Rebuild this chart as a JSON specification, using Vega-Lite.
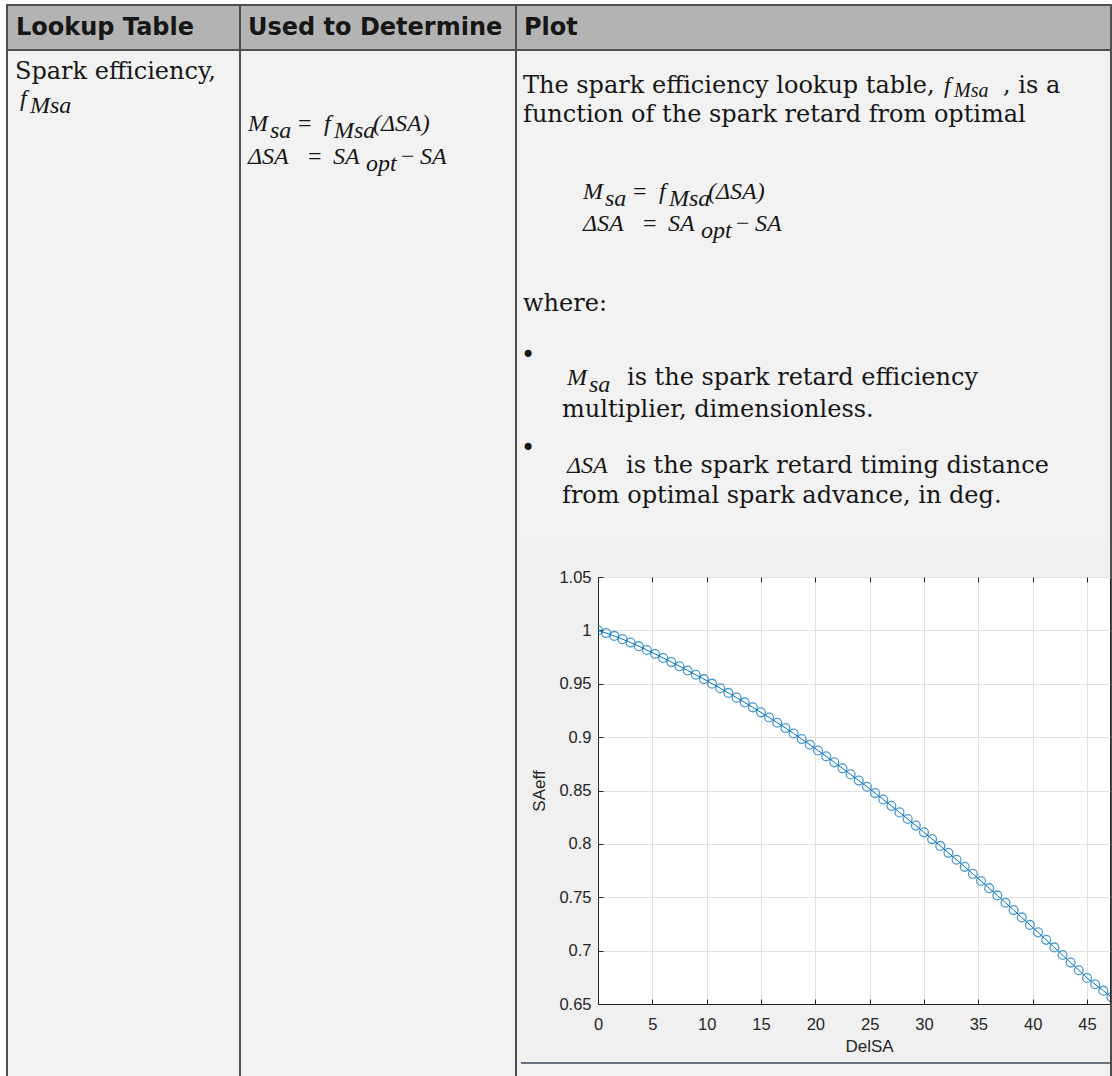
{
  "$schema": "https://vega.github.io/schema/vega-lite/v6.json",
  "padding": 0,
  "background": "white",
  "bounds": "flush",
  "spacing": 0,
  "config": {
    "view": {"stroke": null},
    "text": {"align": "left", "baseline": "alphabetic", "color": "#161616", "font": "DejaVu Serif", "fontSize": 24},
    "style": {
      "hdr": {"font": "DejaVu Sans", "fontWeight": "bold", "fontSize": 22},
      "body": {"font": "DejaVu Serif", "fontSize": 24},
      "mi": {"font": "Liberation Serif", "fontStyle": "italic", "fontSize": 30},
      "sub": {"font": "Liberation Serif", "fontStyle": "italic", "fontSize": 21},
      "op": {"font": "Liberation Serif", "fontSize": 30},
      "dot": {"font": "DejaVu Sans", "fontSize": 18}
    }
  },
  "vconcat": [
    {
      "width": 1112,
      "height": 577,
      "data": {"values": [{}]},
      "layer": [
        {"mark": {"type": "rect", "x": 7, "x2": 1111, "y": 50, "y2": 1076, "color": "#f2f2f2"}},
        {"mark": {"type": "rect", "x": 7, "x2": 1111, "y": 5, "y2": 50, "color": "#b3b3b3"}},
        {"mark": {"type": "rect", "x": 520, "x2": 1110, "y": 542, "y2": 1063, "color": "#f0f0f0"}},
        {"mark": {"type": "rect", "x": 6, "x2": 1112, "y": 4, "y2": 6, "color": "#4f4f4f"}},
        {"mark": {"type": "rect", "x": 6, "x2": 1112, "y": 49, "y2": 51, "color": "#4f4f4f"}},
        {"mark": {"type": "rect", "x": 6, "x2": 8, "y": 4, "y2": 1076, "color": "#4f4f4f"}},
        {"mark": {"type": "rect", "x": 239, "x2": 241, "y": 4, "y2": 1076, "color": "#4f4f4f"}},
        {"mark": {"type": "rect", "x": 515, "x2": 517, "y": 4, "y2": 1076, "color": "#4f4f4f"}},
        {"mark": {"type": "rect", "x": 1110, "x2": 1112, "y": 4, "y2": 1076, "color": "#4f4f4f"}},
        {"mark": {"type": "rect", "x": 521, "x2": 1110, "y": 1062.3, "y2": 1063.7, "color": "#3a4659"}},

        {"mark": {"type": "text", "style": "hdr", "text": "Lookup Table", "x": 16, "y": 35}},
        {"mark": {"type": "text", "style": "hdr", "text": "Used to Determine", "x": 248, "y": 35}},
        {"mark": {"type": "text", "style": "hdr", "text": "Plot", "x": 524, "y": 35}},

        {"mark": {"type": "text", "style": "body", "text": "Spark efficiency,", "x": 15, "y": 79}},
        {"mark": {"type": "text", "style": "mi", "text": "f", "x": 20, "y": 106}},
        {"mark": {"type": "text", "style": "sub", "text": "Msa", "x": 30, "y": 113}},

        {"mark": {"type": "text", "style": "mi", "text": "M", "x": 248, "y": 131}},
        {"mark": {"type": "text", "style": "sub", "text": "sa", "x": 270, "y": 138}},
        {"mark": {"type": "text", "style": "op", "text": "=", "x": 298, "y": 131}},
        {"mark": {"type": "text", "style": "mi", "text": "f", "x": 324, "y": 131}},
        {"mark": {"type": "text", "style": "sub", "text": "Msa", "x": 334, "y": 138}},
        {"mark": {"type": "text", "style": "mi", "text": "(ΔSA)", "x": 373, "y": 131}},
        {"mark": {"type": "text", "style": "mi", "text": "ΔSA", "x": 248, "y": 164}},
        {"mark": {"type": "text", "style": "op", "text": "=", "x": 308, "y": 164}},
        {"mark": {"type": "text", "style": "mi", "text": "SA", "x": 333, "y": 164}},
        {"mark": {"type": "text", "style": "sub", "text": "opt", "x": 366, "y": 171}},
        {"mark": {"type": "text", "style": "op", "text": "−", "x": 401, "y": 164}},
        {"mark": {"type": "text", "style": "mi", "text": "SA", "x": 420, "y": 164}},

        {"mark": {"type": "text", "style": "body", "text": "The spark efficiency lookup table,", "x": 523, "y": 93}},
        {"mark": {"type": "text", "style": "mi", "text": "f", "x": 944, "y": 93}},
        {"mark": {"type": "text", "style": "sub", "text": "Msa", "x": 954, "y": 97, "fontSize": 20}},
        {"mark": {"type": "text", "style": "body", "text": ", is a", "x": 1003, "y": 93}},
        {"mark": {"type": "text", "style": "body", "text": "function of the spark retard from optimal", "x": 523, "y": 122}},

        {"mark": {"type": "text", "style": "mi", "text": "M", "x": 583, "y": 199}},
        {"mark": {"type": "text", "style": "sub", "text": "sa", "x": 605, "y": 206}},
        {"mark": {"type": "text", "style": "op", "text": "=", "x": 633, "y": 199}},
        {"mark": {"type": "text", "style": "mi", "text": "f", "x": 659, "y": 199}},
        {"mark": {"type": "text", "style": "sub", "text": "Msa", "x": 669, "y": 206}},
        {"mark": {"type": "text", "style": "mi", "text": "(ΔSA)", "x": 708, "y": 199}},
        {"mark": {"type": "text", "style": "mi", "text": "ΔSA", "x": 583, "y": 231}},
        {"mark": {"type": "text", "style": "op", "text": "=", "x": 643, "y": 231}},
        {"mark": {"type": "text", "style": "mi", "text": "SA", "x": 668, "y": 231}},
        {"mark": {"type": "text", "style": "sub", "text": "opt", "x": 701, "y": 238}},
        {"mark": {"type": "text", "style": "op", "text": "−", "x": 736, "y": 231}},
        {"mark": {"type": "text", "style": "mi", "text": "SA", "x": 755, "y": 231}},

        {"mark": {"type": "text", "style": "body", "text": "where:", "x": 523, "y": 311}},
        {"mark": {"type": "text", "style": "dot", "text": "•", "x": 521, "y": 363}},
        {"mark": {"type": "text", "style": "mi", "text": "M", "x": 567, "y": 385}},
        {"mark": {"type": "text", "style": "sub", "text": "sa", "x": 589, "y": 392}},
        {"mark": {"type": "text", "style": "body", "text": "is the spark retard efficiency", "x": 627, "y": 385}},
        {"mark": {"type": "text", "style": "body", "text": "multiplier, dimensionless.", "x": 562, "y": 417}},
        {"mark": {"type": "text", "style": "dot", "text": "•", "x": 521, "y": 456}},
        {"mark": {"type": "text", "style": "mi", "text": "ΔSA", "x": 567, "y": 473}},
        {"mark": {"type": "text", "style": "body", "text": "is the spark retard timing distance", "x": 626, "y": 473}},
        {"mark": {"type": "text", "style": "body", "text": "from optimal spark advance, in deg.", "x": 562, "y": 503}}
      ]
    },
    {
      "spacing": 0,
      "bounds": "flush",
      "hconcat": [
        {
          "width": 598,
          "height": 427,
          "data": {"values": [{}]},
          "mark": {"type": "point", "opacity": 0}
        },
        {
          "width": 512,
          "height": 427,
          "view": {"fill": "white", "stroke": "#262626", "strokeWidth": 1},
          "data": {
            "values": [
              {"DelSA": 0, "SAeff": 1.0},
              {"DelSA": 0.75, "SAeff": 0.9975},
              {"DelSA": 1.5, "SAeff": 0.9948},
              {"DelSA": 2.25, "SAeff": 0.9918},
              {"DelSA": 3, "SAeff": 0.9886},
              {"DelSA": 3.75, "SAeff": 0.9852},
              {"DelSA": 4.5, "SAeff": 0.9816},
              {"DelSA": 5.25, "SAeff": 0.9779},
              {"DelSA": 6, "SAeff": 0.9741},
              {"DelSA": 6.75, "SAeff": 0.9703},
              {"DelSA": 7.5, "SAeff": 0.9664},
              {"DelSA": 8.25, "SAeff": 0.9624},
              {"DelSA": 9, "SAeff": 0.9584},
              {"DelSA": 9.75, "SAeff": 0.9543},
              {"DelSA": 10.5, "SAeff": 0.9501},
              {"DelSA": 11.25, "SAeff": 0.9458},
              {"DelSA": 12, "SAeff": 0.9414},
              {"DelSA": 12.75, "SAeff": 0.937},
              {"DelSA": 13.5, "SAeff": 0.9325},
              {"DelSA": 14.25, "SAeff": 0.9279},
              {"DelSA": 15, "SAeff": 0.9232},
              {"DelSA": 15.75, "SAeff": 0.9184},
              {"DelSA": 16.5, "SAeff": 0.9135},
              {"DelSA": 17.25, "SAeff": 0.9085},
              {"DelSA": 18, "SAeff": 0.9034},
              {"DelSA": 18.75, "SAeff": 0.8982},
              {"DelSA": 19.5, "SAeff": 0.8929},
              {"DelSA": 20.25, "SAeff": 0.8875},
              {"DelSA": 21, "SAeff": 0.882},
              {"DelSA": 21.75, "SAeff": 0.8764},
              {"DelSA": 22.5, "SAeff": 0.8708},
              {"DelSA": 23.25, "SAeff": 0.8651},
              {"DelSA": 24, "SAeff": 0.8593},
              {"DelSA": 24.75, "SAeff": 0.8535},
              {"DelSA": 25.5, "SAeff": 0.8476},
              {"DelSA": 26.25, "SAeff": 0.8416},
              {"DelSA": 27, "SAeff": 0.8356},
              {"DelSA": 27.75, "SAeff": 0.8295},
              {"DelSA": 28.5, "SAeff": 0.8233},
              {"DelSA": 29.25, "SAeff": 0.8171},
              {"DelSA": 30, "SAeff": 0.8108},
              {"DelSA": 30.75, "SAeff": 0.8045},
              {"DelSA": 31.5, "SAeff": 0.7981},
              {"DelSA": 32.25, "SAeff": 0.7916},
              {"DelSA": 33, "SAeff": 0.7851},
              {"DelSA": 33.75, "SAeff": 0.7785},
              {"DelSA": 34.5, "SAeff": 0.7719},
              {"DelSA": 35.25, "SAeff": 0.7652},
              {"DelSA": 36, "SAeff": 0.7585},
              {"DelSA": 36.75, "SAeff": 0.7517},
              {"DelSA": 37.5, "SAeff": 0.7449},
              {"DelSA": 38.25, "SAeff": 0.738},
              {"DelSA": 39, "SAeff": 0.7311},
              {"DelSA": 39.75, "SAeff": 0.7241},
              {"DelSA": 40.5, "SAeff": 0.7171},
              {"DelSA": 41.25, "SAeff": 0.7101},
              {"DelSA": 42, "SAeff": 0.703},
              {"DelSA": 42.75, "SAeff": 0.6959},
              {"DelSA": 43.5, "SAeff": 0.6888},
              {"DelSA": 44.25, "SAeff": 0.6816},
              {"DelSA": 45, "SAeff": 0.6744},
              {"DelSA": 45.75, "SAeff": 0.6685},
              {"DelSA": 46.5, "SAeff": 0.6625},
              {"DelSA": 47.25, "SAeff": 0.6565},
              {"DelSA": 48, "SAeff": 0.6505}
            ]
          },
          "layer": [
            {
              "encoding": {
                "x": {
                  "field": "DelSA", "type": "quantitative",
                  "scale": {"domain": [0, 47.12], "nice": false, "zero": false},
                  "axis": {
                    "orient": "bottom", "title": "DelSA",
                    "values": [0, 5, 10, 15, 20, 25, 30, 35, 40, 45], "format": "d",
                    "grid": true, "gridColor": "#e1e1e1", "gridWidth": 1,
                    "domain": true, "domainColor": "#262626", "domainWidth": 1,
                    "ticks": true, "tickSize": -5, "tickColor": "#262626", "tickWidth": 1,
                    "labelPadding": 17, "labelFont": "Liberation Sans", "labelFontSize": 16.5, "labelColor": "#262626",
                    "labelFlush": false, "labelOverlap": false,
                    "titleFont": "Liberation Sans", "titleFontSize": 17, "titleFontWeight": "normal", "titleColor": "#262626",
                    "titlePadding": 6, "titleX": 271, "titleAlign": "center"
                  }
                },
                "y": {
                  "field": "SAeff", "type": "quantitative",
                  "scale": {"domain": [0.65, 1.05], "nice": false, "zero": false},
                  "axis": {
                    "orient": "left", "title": "SAeff",
                    "values": [0.65, 0.7, 0.75, 0.8, 0.85, 0.9, 0.95, 1, 1.05], "format": "~g",
                    "grid": true, "gridColor": "#e1e1e1", "gridWidth": 1,
                    "domain": true, "domainColor": "#262626", "domainWidth": 1,
                    "ticks": true, "tickSize": -5, "tickColor": "#262626", "tickWidth": 1,
                    "labelPadding": 12, "labelFont": "Liberation Sans", "labelFontSize": 16.5, "labelColor": "#262626",
                    "labelFlush": false, "labelOverlap": false,
                    "titleFont": "Liberation Sans", "titleFontSize": 17, "titleFontWeight": "normal", "titleColor": "#262626",
                    "titlePadding": 10
                  }
                }
              },
              "layer": [
                {"mark": {"type": "line", "color": "#0072BD", "strokeWidth": 1, "clip": true}},
                {"mark": {"type": "point", "shape": "circle", "filled": false, "color": "#0072BD", "size": 78, "strokeWidth": 1.3, "opacity": 0.7, "clip": true}}
              ]
            },
            {
              "mark": {"type": "point", "opacity": 0, "clip": true},
              "encoding": {
                "x": {
                  "field": "DelSA", "type": "quantitative",
                  "scale": {"domain": [0, 47.12], "nice": false, "zero": false},
                  "axis": {
                    "orient": "top", "title": null, "labels": false, "grid": false, "domain": false,
                    "values": [0, 5, 10, 15, 20, 25, 30, 35, 40, 45],
                    "ticks": true, "tickSize": -5, "tickColor": "#262626", "tickWidth": 1
                  }
                },
                "y": {
                  "field": "SAeff", "type": "quantitative",
                  "scale": {"domain": [0.65, 1.05], "nice": false, "zero": false},
                  "axis": {
                    "orient": "left", "title": "SAeff",
                    "values": [0.65, 0.7, 0.75, 0.8, 0.85, 0.9, 0.95, 1, 1.05], "format": "~g",
                    "grid": true, "gridColor": "#e1e1e1", "gridWidth": 1,
                    "domain": true, "domainColor": "#262626", "domainWidth": 1,
                    "ticks": true, "tickSize": -5, "tickColor": "#262626", "tickWidth": 1,
                    "labelPadding": 12, "labelFont": "Liberation Sans", "labelFontSize": 16.5, "labelColor": "#262626",
                    "labelFlush": false, "labelOverlap": false,
                    "titleFont": "Liberation Sans", "titleFontSize": 17, "titleFontWeight": "normal", "titleColor": "#262626",
                    "titlePadding": 10
                  }
                }
              }
            }
          ]
        }
      ]
    }
  ]
}
